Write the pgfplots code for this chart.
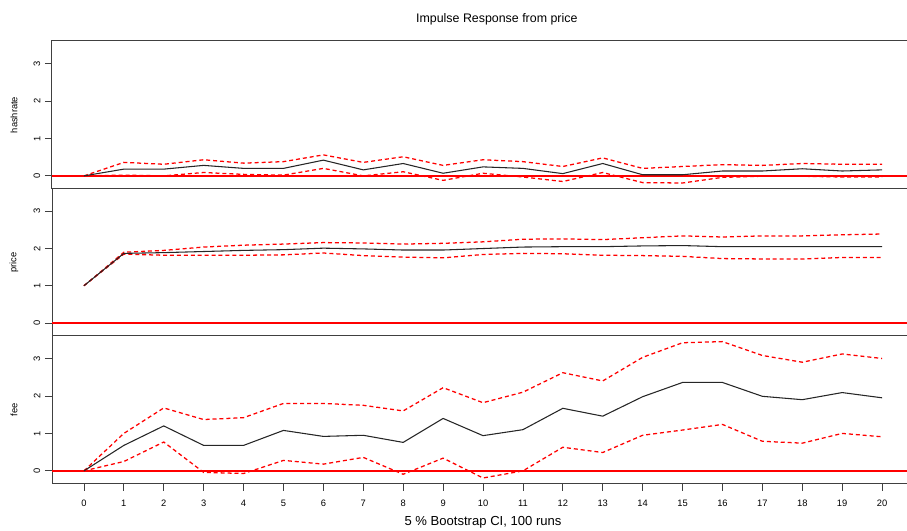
\documentclass[border=0pt]{standalone}
\usepackage{fontspec}
\setmainfont{Liberation Sans}
\usepackage{pgfplots}
\pgfplotsset{compat=1.18}
\usepackage{pgfplotstable}

\pgfplotstableread{
x irf lo hi
0 0 0 0
1 0.18 0.02 0.36
2 0.18 0.00 0.31
3 0.28 0.09 0.43
4 0.20 0.04 0.34
5 0.20 0.02 0.38
6 0.42 0.20 0.56
7 0.16 0.00 0.36
8 0.33 0.11 0.51
9 0.07 -0.12 0.28
10 0.24 0.07 0.43
11 0.20 -0.03 0.38
12 0.06 -0.15 0.25
13 0.33 0.09 0.48
14 0.03 -0.18 0.20
15 0.03 -0.19 0.25
16 0.13 -0.04 0.30
17 0.13 -0.01 0.28
18 0.19 -0.01 0.33
19 0.13 -0.03 0.31
20 0.16 -0.03 0.31
}\hashrate

\pgfplotstableread{
x irf lo hi
0 1 1 1
1 1.87 1.85 1.90
2 1.89 1.82 1.95
3 1.92 1.82 2.04
4 1.95 1.82 2.09
5 1.97 1.83 2.12
6 2.01 1.88 2.16
7 1.99 1.81 2.15
8 1.96 1.77 2.12
9 1.96 1.75 2.14
10 2.00 1.84 2.18
11 2.04 1.87 2.25
12 2.05 1.86 2.26
13 2.05 1.82 2.24
14 2.07 1.81 2.29
15 2.08 1.79 2.34
16 2.05 1.73 2.31
17 2.05 1.72 2.34
18 2.05 1.72 2.34
19 2.05 1.76 2.37
20 2.05 1.76 2.39
}\price

\pgfplotstableread{
x irf lo hi
0 0 0 0
1 0.68 0.25 1.00
2 1.20 0.77 1.68
3 0.68 -0.04 1.37
4 0.68 -0.07 1.42
5 1.08 0.28 1.80
6 0.92 0.18 1.80
7 0.95 0.36 1.75
8 0.76 -0.09 1.60
9 1.40 0.34 2.22
10 0.94 -0.19 1.82
11 1.10 0.00 2.10
12 1.67 0.63 2.62
13 1.46 0.49 2.40
14 1.98 0.95 3.03
15 2.36 1.09 3.42
16 2.36 1.24 3.45
17 1.99 0.79 3.08
18 1.90 0.74 2.90
19 2.09 1.00 3.12
20 1.95 0.91 3.00
}\fee

\definecolor{axgray}{HTML}{404040}

\pgfplotsset{
  panel/.style={
    scale only axis,
    width=646.5pt,
    xmin=-0.8, xmax=20.8,
    ymin=-0.35, ymax=3.6,
    axis line style={line width=0.75pt, color=axgray},
    tick style={line width=0.6pt, color=axgray},
    tick align=outside,
    major tick length=5.25pt,
    ytick={0,1,2,3},
    ytick pos=left,
    xtick pos=bottom,
    /pgf/number format/assume math mode=true,
    yticklabel style={rotate=90, anchor=south, font=\fontsize{7}{8}\selectfont},
    xticklabel style={font=\fontsize{7}{8}\selectfont, yshift=-3pt},
    ylabel style={at={(axis description cs:-0.0441,0.5)}, anchor=center, font=\fontsize{7}{8}\selectfont},
    clip=true,
  },
  irfline/.style={black!85, line width=0.8pt},
  ciline/.style={red, line width=0.95pt, dash pattern=on 3pt off 2.2pt},
  zeroline/.style={red, line width=1.1pt},
}

\begin{document}
\begin{tikzpicture}
\path[use as bounding box, clip] (0pt,0pt) rectangle (680.25pt,398.25pt);

% top panel: hashrate
\begin{axis}[panel, at={(39pt,367.5pt)}, anchor=north west, height=111pt,
  xtick=\empty, ylabel={hashrate},
  title={Impulse Response from price},
  title style={at={(axis description cs:0.516,1)}, anchor=center, yshift=10.5pt, font=\fontsize{9.3}{11}\selectfont}]
\addplot[zeroline] coordinates {(-0.8,0) (20.8,0)};
\addplot[ciline] table[x=x, y=hi] {\hashrate};
\addplot[ciline] table[x=x, y=lo] {\hashrate};
\addplot[irfline] table[x=x, y=irf] {\hashrate};
\end{axis}

% middle panel: price
\begin{axis}[panel, at={(39pt,256.5pt)}, anchor=north west, height=110.25pt,
  xtick=\empty, ylabel={price}]
\addplot[zeroline] coordinates {(-0.8,0) (20.8,0)};
\addplot[ciline] table[x=x, y=hi] {\price};
\addplot[ciline] table[x=x, y=lo] {\price};
\addplot[irfline] table[x=x, y=irf] {\price};
\end{axis}

% bottom panel: fee
\begin{axis}[panel, at={(39pt,146.25pt)}, anchor=north west, height=111pt,
  xtick={0,1,...,20}, ylabel={fee},
  xlabel={5 \% Bootstrap CI, 100 runs},
  xlabel style={at={(axis description cs:0.5,0)}, anchor=center, yshift=-28.5pt, font=\fontsize{9.8}{11}\selectfont}]
\addplot[zeroline] coordinates {(-0.8,0) (20.8,0)};
\addplot[ciline] table[x=x, y=hi] {\fee};
\addplot[ciline] table[x=x, y=lo] {\fee};
\addplot[irfline] table[x=x, y=irf] {\fee};
\end{axis}
\end{tikzpicture}
\end{document}
